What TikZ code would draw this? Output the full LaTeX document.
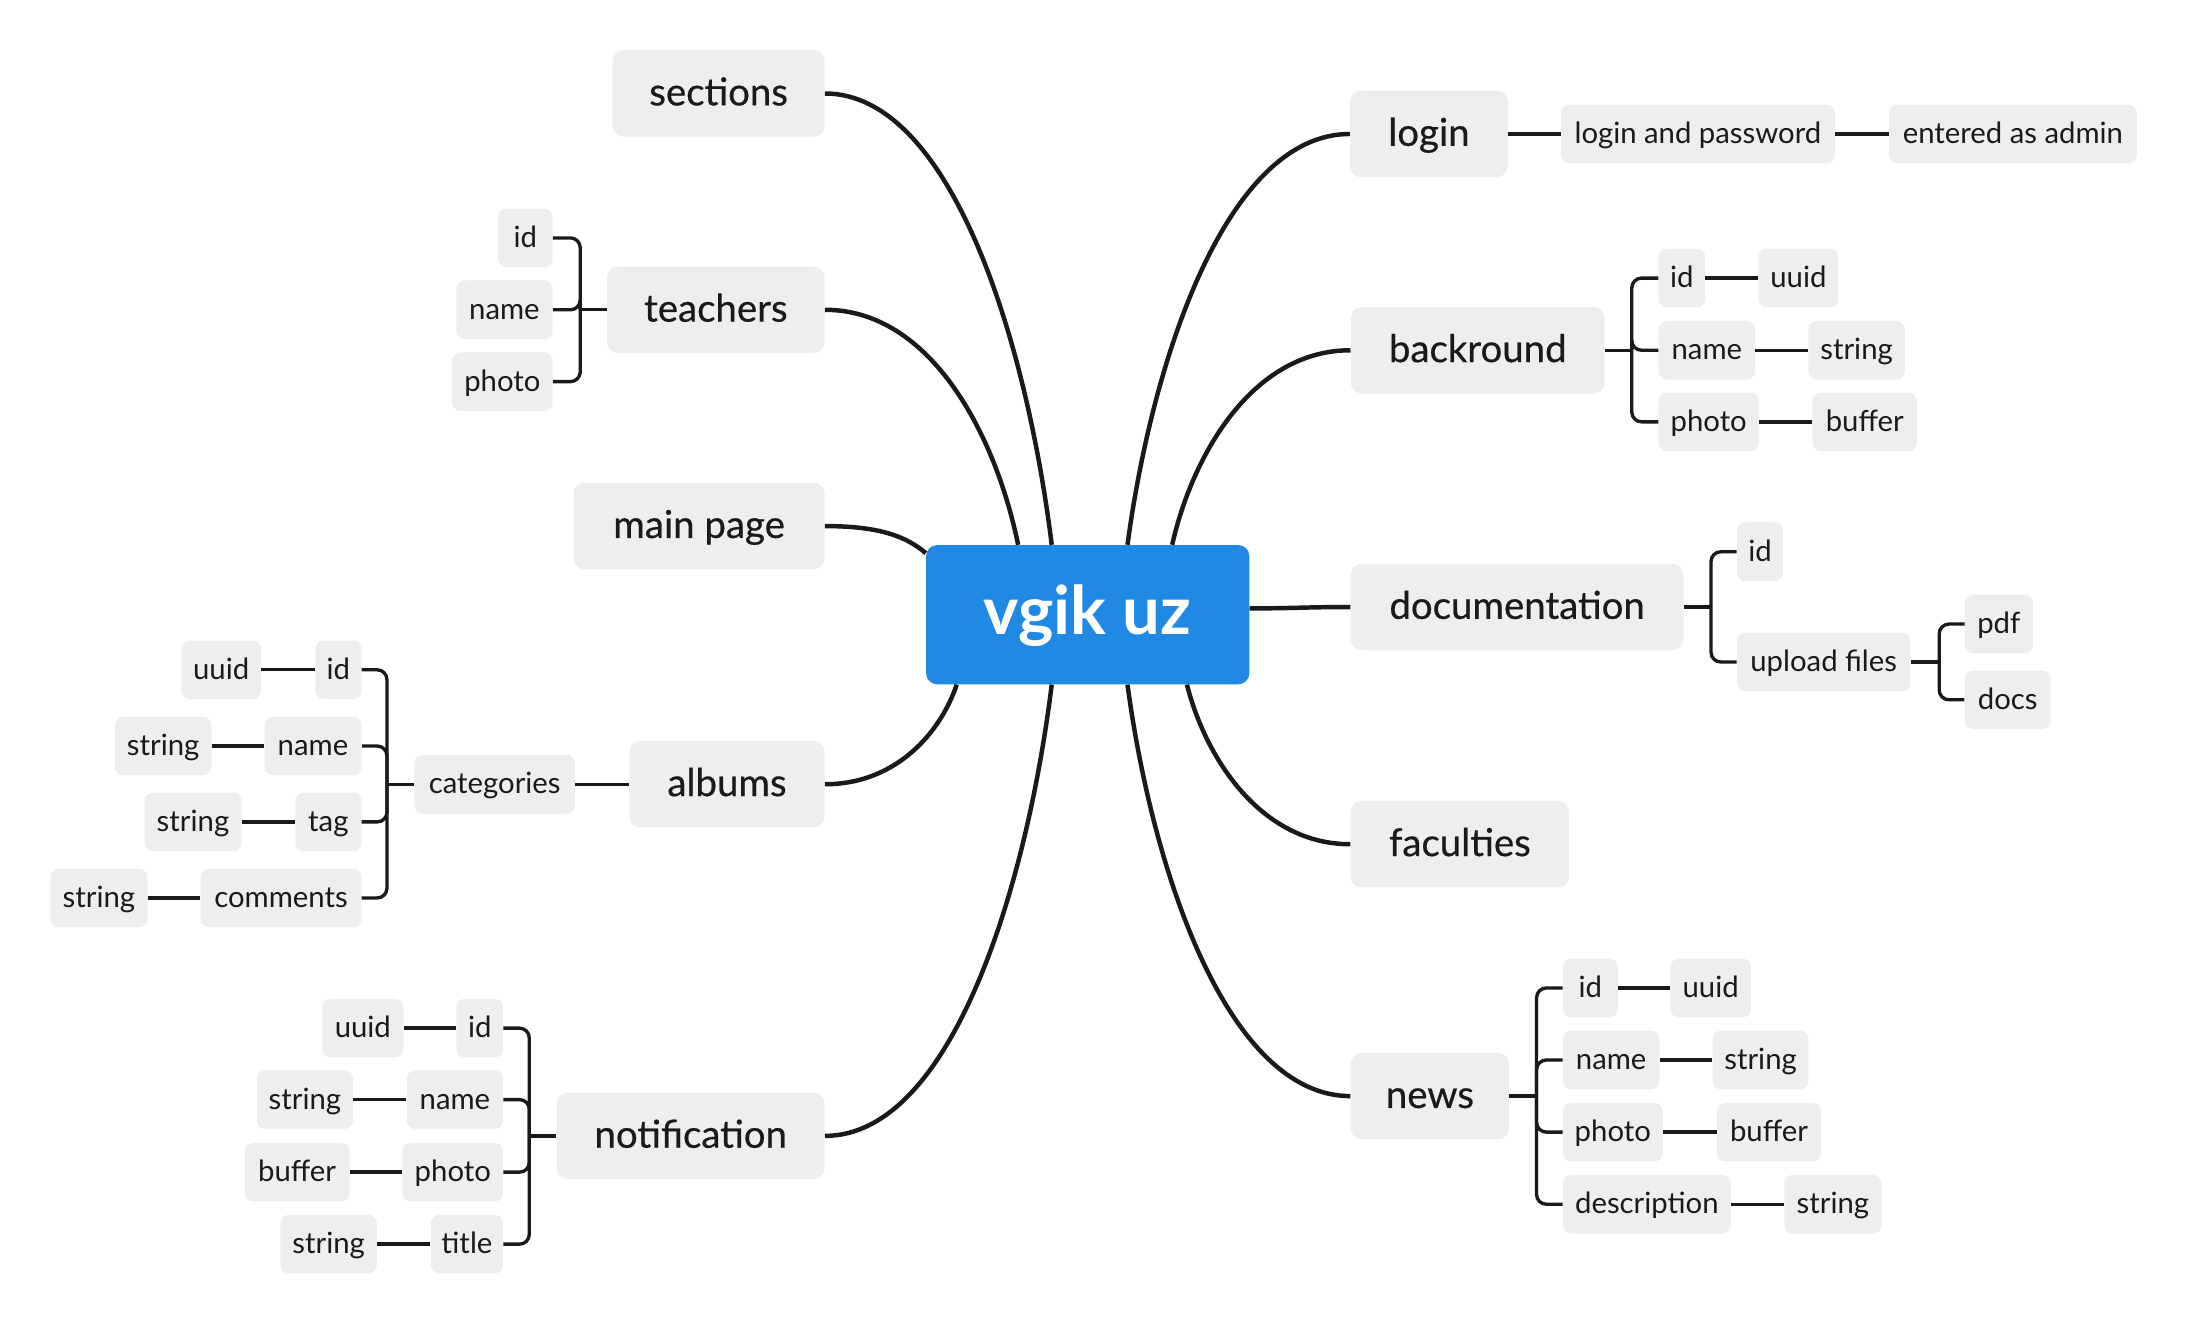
\documentclass[tikz,border=0pt]{standalone}
\usepackage{fontspec}
\setmainfont{Lato}
\newfontfamily\lonefont[FakeBold=0.5]{Lato}
\definecolor{nodefill}{RGB}{238,238,238}
\definecolor{ink}{RGB}{26,26,26}
\definecolor{ctrblue}{RGB}{31,137,228}
\tikzset{
  ctr/.style={fill=ctrblue, rounded corners=8pt, minimum width=231.7pt, minimum height=99.8pt, inner sep=0pt,
    text height=28.5pt, text depth=0pt, text=white, font=\bfseries\fontsize{48}{52}\selectfont},
  l1/.style={fill=nodefill, rounded corners=8pt, minimum height=62pt, inner sep=0pt,
    text height=17pt, text depth=0pt, text=ink, font=\lonefont\fontsize{27.5}{30}\selectfont},
  l2/.style={fill=nodefill, rounded corners=6pt, minimum height=42pt, inner sep=0pt,
    text height=13.5pt, text depth=0pt, text=ink, font=\fontsize{21}{24}\selectfont},
  trunk/.style={draw=ink, line width=3.2pt},
  twig/.style={draw=ink, line width=2.4pt, rounded corners=7pt},
}
\begin{document}
\begin{tikzpicture}[x=1pt,y=-1pt]
\useasboundingbox[fill=white] (0,0) rectangle (1568,948.8);

% centre
\node[ctr] (ctr) at (779.5,440.5) {vgik uz};

% level 1 left
\node[l1, minimum width=152pt] (sections) at (515,67) {sections};
\node[l1, minimum width=156pt] (teachers) at (513,222) {teachers};
\node[l1, minimum width=180pt] (mainpage) at (501,377) {main page};
\node[l1, minimum width=140pt] (albums) at (521,562) {albums};
\node[l1, minimum width=192pt] (notification) at (495,814) {notification};
% level 1 right
\node[l1, minimum width=113pt] (login) at (1024,96) {login};
\node[l1, minimum width=182pt] (backround) at (1059,251) {backround};
\node[l1, minimum width=238.5pt] (documentation) at (1087.2,435) {documentation};
\node[l1, minimum width=156.5pt] (faculties) at (1046.2,605) {faculties};
\node[l1, minimum width=113.5pt] (news) at (1024.7,785.5) {news};

% main connectors
\draw[trunk] (sections.east) .. controls +(89,0) and +(-18.7,-150.6) .. ([xshift=-25.8pt]ctr.north);
\draw[trunk] (teachers.east) .. controls +(76,0) and +(-16,-78.5) .. ([xshift=-49.9pt]ctr.north);
\draw[trunk] (mainpage.east) .. controls +(39,0) and +(-14,-12) .. ([yshift=-6pt]ctr.north west);
\draw[trunk] (albums.east) .. controls +(52,0) and +(-11,33) .. ([xshift=-93.9pt]ctr.south);
\draw[trunk] (notification.east) .. controls +(89,0) and +(-18.7,150.6) .. ([xshift=-25.8pt]ctr.south);
\draw[trunk] (login.west) .. controls +(-87,0) and +(18.4,-137) .. ([xshift=28.5pt]ctr.north);
\draw[trunk] (backround.west) .. controls +(-70,0) and +(14.7,-65) .. ([xshift=60.5pt]ctr.north);
\draw[trunk] ([yshift=4.5pt]ctr.east) .. controls +(30,0) and +(-30,0) .. (documentation.west);
\draw[trunk] (faculties.west) .. controls +(-64,0) and +(13.4,53) .. ([xshift=71.1pt]ctr.south);
\draw[trunk] (news.west) .. controls +(-87,0) and +(18.4,137) .. ([xshift=28.5pt]ctr.south);

% teachers
\node[l2, minimum width=39pt] (tid) at (376.5,170.5) {id};
\node[l2, minimum width=69pt] (tname) at (361.5,222) {name};
\node[l2, minimum width=72pt] (tphoto) at (360,273.5) {photo};
\coordinate (tb) at ([xshift=-19pt]teachers.west);
\draw[twig] (teachers.west) -- (tb);
\draw[twig] (tb) |- (tid.east);
\draw[twig] (tb) |- (tname.east);
\draw[twig] (tb) |- (tphoto.east);

% albums
\node[l2, minimum width=115pt] (categories) at (354.5,562) {categories};
\draw[twig] (albums.west) -- (categories.east);
\node[l2, minimum width=33pt] (aid) at (242.5,480) {id};
\node[l2, minimum width=57pt] (auuid) at (158.5,480) {uuid};
\node[l2, minimum width=69.5pt] (aname) at (224.3,534.6) {name};
\node[l2, minimum width=69pt] (anstr) at (116.9,534.6) {string};
\node[l2, minimum width=47.4pt] (atag) at (235.3,589) {tag};
\node[l2, minimum width=69.4pt] (atstr) at (138.3,589) {string};
\node[l2, minimum width=115.2pt] (acomm) at (201.4,643.5) {comments};
\node[l2, minimum width=69.4pt] (acstr) at (70.9,643.5) {string};
\coordinate (cb) at ([xshift=-19.5pt]categories.west);
\draw[twig] (categories.west) -- (cb);
\draw[twig] (cb) |- (aid.east);
\draw[twig] (cb) |- (aname.east);
\draw[twig] (cb) |- (atag.east);
\draw[twig] (cb) |- (acomm.east);
\draw[twig] (aid.west) -- (auuid.east);
\draw[twig] (aname.west) -- (anstr.east);
\draw[twig] (atag.west) -- (atstr.east);
\draw[twig] (acomm.west) -- (acstr.east);

% notification
\node[l2, minimum width=33.5pt] (nid) at (343.8,736.8) {id};
\node[l2, minimum width=58pt] (nuuid) at (260,736.8) {uuid};
\node[l2, minimum width=69pt] (nname) at (326,788) {name};
\node[l2, minimum width=69pt] (nnstr) at (218.5,788) {string};
\node[l2, minimum width=72pt] (nphoto) at (324.5,840) {photo};
\node[l2, minimum width=75pt] (nbuf) at (212.9,840) {buffer};
\node[l2, minimum width=51.8pt] (ntitle) at (334.6,891.6) {title};
\node[l2, minimum width=69pt] (ntstr) at (235.5,891.6) {string};
\coordinate (nb) at ([xshift=-19.5pt]notification.west);
\draw[twig] (notification.west) -- (nb);
\draw[twig] (nb) |- (nid.east);
\draw[twig] (nb) |- (nname.east);
\draw[twig] (nb) |- (nphoto.east);
\draw[twig] (nb) |- (ntitle.east);
\draw[twig] (nid.west) -- (nuuid.east);
\draw[twig] (nname.west) -- (nnstr.east);
\draw[twig] (nphoto.west) -- (nbuf.east);
\draw[twig] (ntitle.west) -- (ntstr.east);

% login
\node[l2, minimum width=196.5pt] (lap) at (1216.8,96) {login and password};
\node[l2, minimum width=177.6pt] (admin) at (1442.5,96) {entered as admin};
\draw[twig] (login.east) -- (lap.west);
\draw[twig] (lap.east) -- (admin.west);

% backround
\node[l2, minimum width=33.4pt] (bid) at (1205.3,199.3) {id};
\node[l2, minimum width=57.2pt] (buuid) at (1288.8,199.3) {uuid};
\node[l2, minimum width=69.2pt] (bname) at (1223.2,251) {name};
\node[l2, minimum width=69pt] (bstr) at (1330.5,251) {string};
\node[l2, minimum width=71.7pt] (bphoto) at (1224.5,302.3) {photo};
\node[l2, minimum width=74.6pt] (bbuf) at (1336.3,302.3) {buffer};
\coordinate (bb) at ([xshift=19.2pt]backround.east);
\draw[twig] (backround.east) -- (bb);
\draw[twig] (bb) |- (bid.west);
\draw[twig] (bb) |- (bname.west);
\draw[twig] (bb) |- (bphoto.west);
\draw[twig] (bid.east) -- (buuid.west);
\draw[twig] (bname.east) -- (bstr.west);
\draw[twig] (bphoto.east) -- (bbuf.west);

% documentation
\node[l2, minimum width=33pt] (did) at (1261.3,395.4) {id};
\node[l2, minimum width=124.2pt] (dup) at (1306.9,474.4) {upload files};
\node[l2, minimum width=48.7pt] (dpdf) at (1432.4,447.2) {pdf};
\node[l2, minimum width=61.6pt] (ddocs) at (1438.8,501.5) {docs};
\coordinate (db) at ([xshift=19.5pt]documentation.east);
\draw[twig] (documentation.east) -- (db);
\draw[twig] (db) |- (did.west);
\draw[twig] (db) |- (dup.west);
\coordinate (ub) at ([xshift=20.5pt]dup.east);
\draw[twig] (dup.east) -- (ub);
\draw[twig] (ub) |- (dpdf.west);
\draw[twig] (ub) |- (ddocs.west);

% news
\node[l2, minimum width=39.3pt] (wid) at (1139.7,708) {id};
\node[l2, minimum width=57.8pt] (wuuid) at (1225.9,708) {uuid};
\node[l2, minimum width=69.1pt] (wname) at (1154.6,759.6) {name};
\node[l2, minimum width=68.6pt] (wstr) at (1261.7,759.6) {string};
\node[l2, minimum width=71.6pt] (wphoto) at (1155.8,811.3) {photo};
\node[l2, minimum width=74.6pt] (wbuf) at (1267.7,811.3) {buffer};
\node[l2, minimum width=120.3pt] (wdesc) at (1180.2,863) {description};
\node[l2, minimum width=69.7pt] (wdstr) at (1313.5,863) {string};
\coordinate (wb) at ([xshift=19.5pt]news.east);
\draw[twig] (news.east) -- (wb);
\draw[twig] (wb) |- (wid.west);
\draw[twig] (wb) |- (wname.west);
\draw[twig] (wb) |- (wphoto.west);
\draw[twig] (wb) |- (wdesc.west);
\draw[twig] (wid.east) -- (wuuid.west);
\draw[twig] (wname.east) -- (wstr.west);
\draw[twig] (wphoto.east) -- (wbuf.west);
\draw[twig] (wdesc.east) -- (wdstr.west);
\end{tikzpicture}
\end{document}
